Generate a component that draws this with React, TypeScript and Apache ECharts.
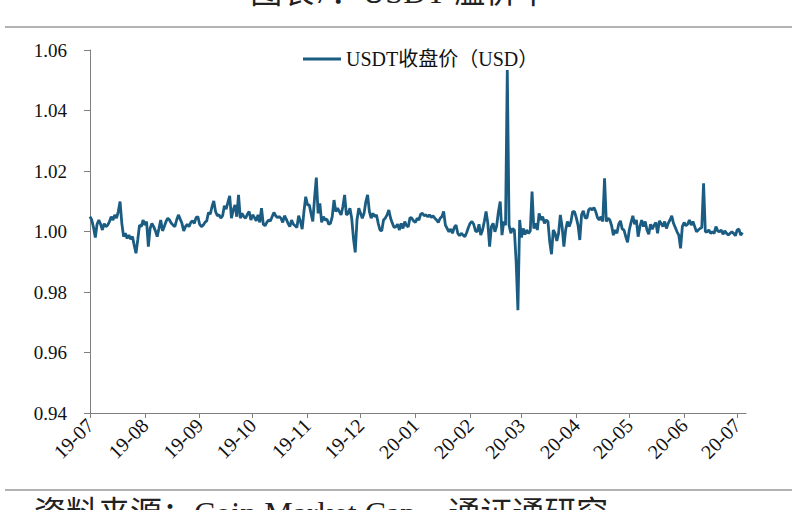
import React, { useEffect, useRef } from "react";
import * as echarts from "echarts";

const START_DATE = "2019-07-01";
const DAY_COUNT = 372; // 2019-07-01 .. 2020-07-06
const monthTicks = ["19-07", "19-08", "19-09", "19-10", "19-11", "19-12", "20-01", "20-02", "20-03", "20-04", "20-05", "20-06", "20-07"];
const yTicks = [0.94, 0.96, 0.98, 1.0, 1.02, 1.04, 1.06];
const seriesName = "USDT收盘价（USD）";

const closeJul19 = [
  1.0049, 1.0038, 1.0013, 0.998, 1.0024, 1.0038, 1.0024, 1.0005, 1.0026, 1.0016,
  1.0021, 1.0033, 1.0049, 1.0038, 1.0055, 1.0044, 1.0066, 1.0099, 1.0027, 0.9983,
  0.9994, 0.9977, 0.9988, 0.9975, 0.9983, 0.9955, 0.9928, 0.9972, 1.0021, 1.0016,
  1.0038,
];
const closeAug19 = [
  1.0021, 1.0033, 0.995, 1.001, 1.0027, 1.0016, 1.0002, 0.9983, 1.001,
  1.0038, 1.0002, 1.0016, 1.0033, 1.0044, 1.0038, 1.0027, 1.0021, 1.0016, 1.0038,
  1.0055, 1.0041, 1.0027, 1.0002, 1.0016, 1.0024, 1.0016, 1.003, 1.0035, 1.0027,
  1.0046, 1.0049,
];
const closeSep19 = [
  1.0024, 1.0016, 1.0021, 1.003, 1.0035, 1.0063, 1.0057, 1.0082,
  1.0101, 1.0066, 1.0052, 1.0055, 1.0044, 1.0052, 1.0085, 1.0074, 1.0096, 1.0118,
  1.0044, 1.0071, 1.0088, 1.0049, 1.0121, 1.0044, 1.006, 1.0049, 1.0044, 1.0057,
  1.0066, 1.0038,
];
const closeOct19 = [
  1.0055, 1.0046, 1.0035, 1.0055, 1.003, 1.0077, 1.0024, 1.0019,
  1.003, 1.0038, 1.0035, 1.0049, 1.0063, 1.0052, 1.0046, 1.0049, 1.0044, 1.003,
  1.0052, 1.0041, 1.0027, 1.0016, 1.0038, 1.0024, 1.0019, 1.0013, 1.0052, 1.0033,
  1.0008, 1.0066, 1.0115,
];
const closeNov19 = [
  1.0088, 1.0088, 1.006, 1.0033, 1.011, 1.0178, 1.006,
  1.0093, 1.003, 1.0049, 1.0038, 1.0041, 1.0024, 1.0027, 1.0049, 1.0104, 1.0066,
  1.0077, 1.0066, 1.0055, 1.0082, 1.0121, 1.0055, 1.006, 1.0077, 1.0044, 0.9977,
  0.9931, 1.0038, 1.0077,
];
const closeDec19 = [
  1.006, 1.0044, 1.006, 1.0099, 1.0121, 1.0066, 1.0044,
  1.006, 1.0049, 1.0055, 1.0027, 1.0005, 1.0002, 1.0038, 1.0044, 1.0055, 1.0071,
  1.0044, 1.0027, 1.0013, 1.0016, 1.0024, 1.0005, 1.0027, 1.001, 1.0033, 1.0019,
  1.0016, 1.0046, 1.0044, 1.0035,
];
const closeJan20 = [
  1.003, 1.0044, 1.0038, 1.0057, 1.006, 1.0052, 1.0055, 1.0049, 1.0055, 1.0046,
  1.0052, 1.0044, 1.0038, 1.003, 1.0044, 1.0049, 1.0066, 1.0021, 1.001, 0.9999,
  1.0008, 0.9994, 1.0013, 1.0021, 0.9994, 0.9986, 0.9994, 0.9988, 0.9983, 0.9996,
  1.0013,
];
const closeFeb20 = [
  1.0027, 1.0033, 1.0024, 1.0002, 0.9999, 1.0024, 0.9988, 1.0005, 1.0033, 1.0066,
  1.0027, 0.995, 1.0016, 1.0027, 0.9999, 1.0019, 1.0066, 1.0099, 0.9988, 1.0033,
  1.0021, 1.0534, 1.0021, 0.9994, 1.001, 1.0005, 0.99, 0.974, 1.0038,
];
const closeMar20 = [
  0.998, 1.001, 0.999, 1.0005, 0.9994, 1.0002, 1.0132, 1.001, 1.0027, 1.0005,
  1.006, 1.0038, 1.0049, 1.0027, 1.0038, 1.0033, 0.9966, 0.9925, 1.0005, 0.9994,
  0.9969, 0.9994, 1.0055, 1.0016, 0.995, 1.0005, 1.0033, 1.0016, 1.0033, 1.0066,
  1.0066,
];
const closeApr20 = [
  1.0046, 1.0021, 0.9972, 1.0055, 1.0068, 1.0046, 1.0044, 1.0071, 1.0077, 1.0071,
  1.0079, 1.0066, 1.0046, 1.0038, 1.0049, 1.0033, 1.0176, 1.0033, 1.0044, 1.0038,
  1.0019, 0.9988, 1.0005, 0.9994, 1.0024, 1.0035, 1.0008, 1.0005, 0.9983, 0.9964,
];
const closeMay20 = [
  1.0005, 1.003, 1.0052, 1.0024, 1.0038, 0.9983, 1.0016, 1.0038, 1.0016, 1.0033,
  1.0005, 0.9991, 1.0024, 1.0008, 1.0021, 1.003, 0.9994, 1.0035, 1.0027, 1.0016,
  1.0033, 1.001, 1.0027, 1.0038, 1.0052, 1.0027, 1.0013, 0.9999, 0.9988, 0.9944,
  1.0016,
];
const closeJun20 = [
  1.003, 1.0019, 1.0024, 1.0038, 1.0021, 1.0033, 1.0016, 0.9999, 1.0005, 1.001,
  1.0013, 1.0159, 0.9999, 0.9999, 1.0005, 0.9994, 0.9999, 0.9994, 1.0016, 1.0002,
  0.9999, 1.0005, 0.9991, 1.0002, 0.9994, 0.9988, 0.9994, 0.9999, 0.9994, 0.9986,
];
const closeJul20 = [1.0005, 1.0008, 0.9988, 0.9997];

function buildDates(): string[] {
  const out: string[] = [];
  const base = new Date(START_DATE + "T00:00:00Z").getTime();
  for (let i = 0; i < DAY_COUNT; i++) {
    const d = new Date(base + i * 86400000);
    const y = d.getUTCFullYear();
    const m = String(d.getUTCMonth() + 1).padStart(2, "0");
    const dd = String(d.getUTCDate()).padStart(2, "0");
    out.push(`${y}-${m}-${dd}`);
  }
  return out;
}

const SERIF = "'Liberation Serif', 'Times New Roman', 'Noto Sans CJK SC', serif";

export default function App() {
  const ref = useRef<HTMLDivElement>(null);
  useEffect(() => {
    if (!ref.current) return;
    const chart = echarts.init(ref.current, undefined, { renderer: "svg" });
    const dates = buildDates();
    const values: (number | null)[] = [
      ...closeJul19, ...closeAug19, ...closeSep19, ...closeOct19, ...closeNov19, ...closeDec19,
      ...closeJan20, ...closeFeb20, ...closeMar20, ...closeApr20, ...closeMay20, ...closeJun20, ...closeJul20,
    ];
    while (values.length < dates.length) values.push(null);
    const isMonthStart = (_i: number, v: string) => v.endsWith("-01") && monthTicks.includes(v.slice(2, 7));

    chart.setOption({
      animation: false,
      backgroundColor: "#ffffff",
      textStyle: { fontFamily: SERIF },
      graphic: [
        {
          type: "text",
          left: "center",
          top: -24,
          style: { text: "图表7：USDT 溢价率", fontSize: 32, fontFamily: SERIF, fill: "#222" },
        },
        {
          type: "line",
          shape: { x1: 5, y1: 27, x2: 792, y2: 27 },
          style: { stroke: "#999", lineWidth: 1.5 },
        },
        {
          type: "line",
          shape: { x1: 5, y1: 490, x2: 792, y2: 490 },
          style: { stroke: "#999", lineWidth: 1.5 },
        },
        {
          type: "text",
          left: 34,
          top: 497,
          style: { text: "资料来源：Coin Market Cap，通证通研究", fontSize: 32, fontFamily: SERIF, fill: "#222" },
        },
      ],
      legend: {
        top: 44,
        left: 298,
        icon: "rect",
        itemWidth: 38,
        itemHeight: 3,
        itemGap: 5,
        textStyle: { fontSize: 20, fontFamily: SERIF, color: "#111" },
        data: [seriesName],
      },
      grid: { left: 90, right: 54, top: 50, bottom: 97, containLabel: false },
      xAxis: {
        type: "category",
        data: dates,
        boundaryGap: false,
        axisLine: { lineStyle: { color: "#7f7f7f", width: 1 } },
        axisTick: { interval: isMonthStart, length: 5, lineStyle: { color: "#7f7f7f" } },
        axisLabel: {
          interval: isMonthStart,
          rotate: 45,
          fontSize: 20,
          color: "#111",
          fontFamily: SERIF,
          margin: 9,
          formatter: (v: string) => v.slice(2, 7),
        },
        splitLine: { show: false },
      },
      yAxis: {
        type: "value",
        min: yTicks[0],
        max: yTicks[yTicks.length - 1],
        interval: 0.02,
        axisLine: { show: true, lineStyle: { color: "#7f7f7f", width: 1 } },
        axisTick: { show: true, length: 6, lineStyle: { color: "#7f7f7f" } },
        axisLabel: {
          fontSize: 19,
          color: "#111",
          fontFamily: SERIF,
          margin: 23,
          formatter: (v: number) => v.toFixed(2),
        },
        splitLine: { show: false },
      },
      series: [
        {
          name: seriesName,
          type: "line",
          data: values,
          symbol: "none",
          connectNulls: false,
          lineStyle: { color: "#1b5c82", width: 2.8 },
          itemStyle: { color: "#1b5c82" },
        },
      ],
    });
    return () => chart.dispose();
  }, []);
  return <div ref={ref} style={{ position: "fixed", left: 0, top: 0, width: 800, height: 510 }} />;
}
